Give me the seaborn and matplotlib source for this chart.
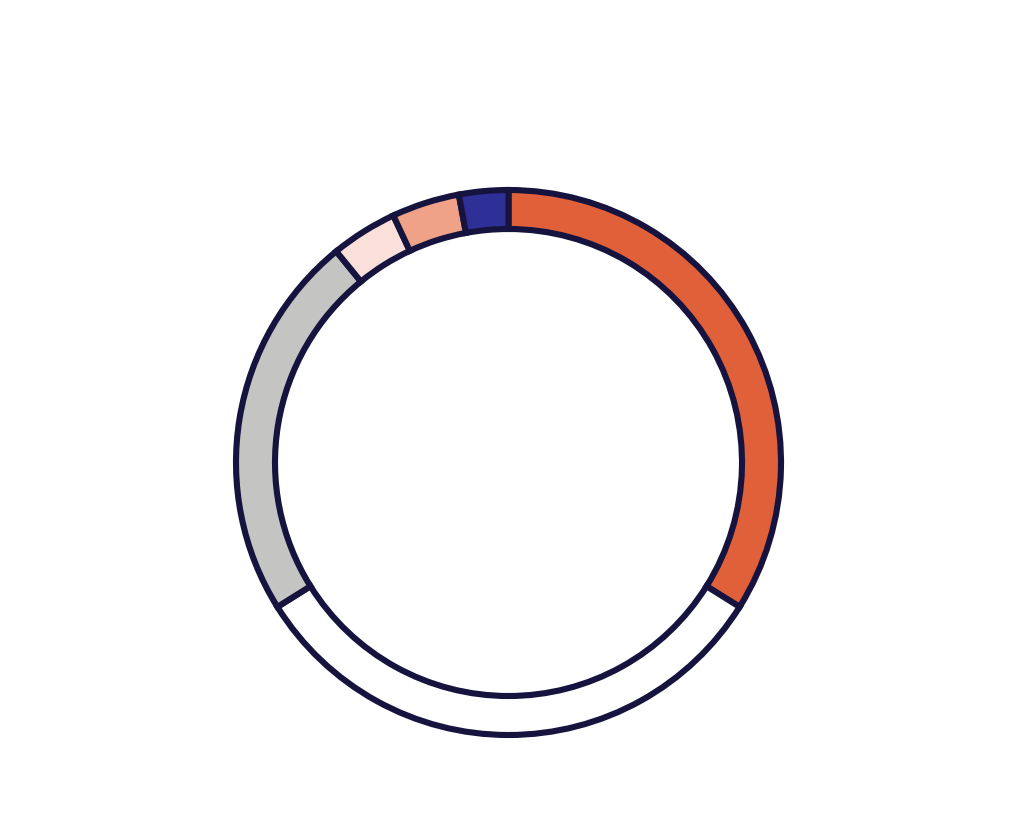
import numpy as np
import pandas as pd
import matplotlib
matplotlib.use("Agg")
import matplotlib.pyplot as plt
import seaborn as sns

# segment sizes (degrees, clockwise from 12 o'clock)
labels = ["A", "rest", "B", "C", "D", "E"]
values = [122.0, 116.0, 82.8, 14.2, 14.5, 10.5]
colors = ["#E0603A", "#FFFFFF", "#C4C4C2", "#FBE0DA", "#EFA287", "#2F2F98"]

sns.set_style("white")

fig = plt.figure(figsize=(10.12, 8.25), dpi=100)
ax = fig.add_axes([236 / 1012, 90 / 825, 545 / 1012, 545 / 825])

ax.pie(values, colors=colors, startangle=90, counterclock=False, radius=1.0,
       wedgeprops=dict(width=39 / 272.5, edgecolor="#16143F", linewidth=4.4))
ax.set_xlim(-1, 1)
ax.set_ylim(-1, 1)
ax.set_aspect("equal")
ax.axis("off")

plt.savefig("out.png", dpi=100)
plt.close()
